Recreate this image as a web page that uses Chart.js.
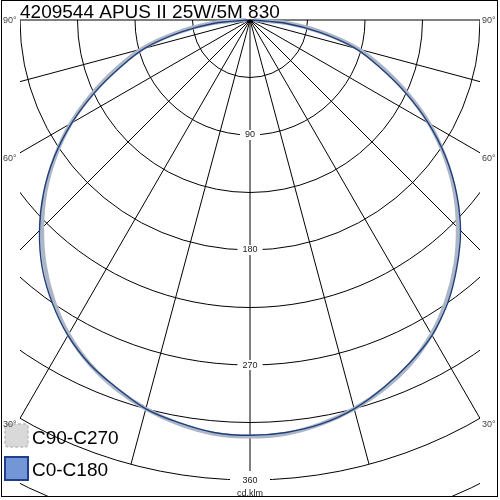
<!DOCTYPE html>
<html>
<head>
<meta charset="utf-8">
<title>4209544 APUS II 25W/5M 830</title>
<script src="https://cdn.jsdelivr.net/npm/chart.js"></script>
<style>
  body { margin: 0; background: #fff; }
  #wrap { width: 500px; height: 500px; }
</style>
</head>
<body>
<div id="wrap"><canvas id="polarChart" width="500" height="500"></canvas></div>
<script>
var titleText = "4209544 APUS II 25W/5M 830";
var unitText = "cd.klm";
var seriesNames = ["C90-C270", "C0-C180"];

// gamma angles, negative side = C180 / C270 half
var gammaAngles = [-90,-85,-80,-75,-70,-65,-60,-55,-50,-45,-40,-35,-30,-25,-20,-15,-10,-5,0,
                   5,10,15,20,25,30,35,40,45,50,55,60,65,70,75,80,85,90];
var c90c270 = [3,30,59,88,111,136,162,186,209,230,250,268,284,297,307,315,321,325,326,
               325,321,315,307,297,284,268,250,230,209,186,162,136,111,88,59,30,3];
var c0c180 = [2,27,55,85,108,134,161,187,211,233,253,270,285,297,306,315,320,324,325,
              324,321,315,306,296,285,270,252,233,211,187,161,134,108,85,55,27,2];

var ringValues = [45,90,135,180,225,270,315,360,405];
var ringLabels = [90,180,270,360];
var spokeAngles = [-90,-75,-60,-45,-30,-15,0,15,30,45,60,75,90];
var angleTicks = [90,60,30];

function toXY(values) {
  return values.map(function(v, i) {
    var a = gammaAngles[i] * Math.PI / 180;
    return {x: v * Math.sin(a), y: -v * Math.cos(a)};
  });
}

var fontFam = '"Liberation Sans", Arial, sans-serif';

var polarGrid = {
  id: 'polarGrid',
  beforeDatasetsDraw: function(chart) {
    var ctx = chart.ctx, area = chart.chartArea;
    var xs = chart.scales.x, ys = chart.scales.y;
    var cx = xs.getPixelForValue(0), cy = ys.getPixelForValue(0);
    ctx.save();
    ctx.beginPath();
    ctx.rect(area.left, area.top - 1, area.right - area.left, area.bottom - area.top + 1);
    ctx.clip();
    ctx.strokeStyle = '#000';
    ctx.lineWidth = 1;
    ringValues.forEach(function(v) {
      var r = xs.getPixelForValue(v) - cx;
      ctx.beginPath();
      ctx.arc(cx, cy, r, 0, Math.PI);
      ctx.stroke();
    });
    spokeAngles.forEach(function(g) {
      var a = g * Math.PI / 180, r = 360;
      ctx.beginPath();
      ctx.moveTo(cx, cy);
      ctx.lineTo(xs.getPixelForValue(r * Math.sin(a)), ys.getPixelForValue(-r * Math.cos(a)));
      ctx.stroke();
    });
    // ring value labels
    ctx.font = '9px ' + fontFam;
    ctx.textAlign = 'center';
    ctx.textBaseline = 'middle';
    ringLabels.forEach(function(v, i) {
      var y = ys.getPixelForValue(-v);
      var w = ctx.measureText(String(v)).width + 10;
      ctx.fillStyle = '#fff';
      if (i == ringLabels.length - 1) {
        ctx.fillRect(cx - 20, y - 9, 40, area.bottom - y + 9);
      } else {
        ctx.fillRect(cx - w / 2, y - 5, w, 10);
      }
      ctx.fillStyle = '#222';
      ctx.fillText(String(v), cx, y);
    });
    ctx.fillText(unitText, cx, ys.getPixelForValue(-ringLabels[ringLabels.length - 1]) + 13);
    ctx.restore();
  },
  afterDraw: function(chart) {
    var ctx = chart.ctx, area = chart.chartArea;
    var cy = chart.scales.y.getPixelForValue(0);
    var half = (area.right - area.left) / 2;
    ctx.save();
    // frame
    ctx.strokeStyle = '#000';
    ctx.lineWidth = 1;
    ctx.strokeRect(1.5, 0.5, 496, 496);
    // title
    ctx.fillStyle = '#000';
    ctx.font = '19px ' + fontFam;
    ctx.textAlign = 'left';
    ctx.textBaseline = 'alphabetic';
    ctx.fillText(titleText, 20, 17.5);
    // legend boxes
    ctx.beginPath();
    ctx.roundRect(5, 424, 23, 23, 3);
    ctx.fillStyle = '#d9d9d9';
    ctx.fill();
    ctx.setLineDash([3, 2]);
    ctx.strokeStyle = '#bdbdbd';
    ctx.lineWidth = 1.5;
    ctx.stroke();
    ctx.setLineDash([]);
    ctx.beginPath();
    ctx.rect(5, 457, 23, 23);
    ctx.fillStyle = '#7396d6';
    ctx.fill();
    ctx.strokeStyle = '#1f3f8c';
    ctx.lineWidth = 2;
    ctx.stroke();
    // angle labels
    ctx.font = '9px ' + fontFam;
    ctx.textBaseline = 'middle';
    ctx.fillStyle = '#444';
    angleTicks.forEach(function(g) {
      var y = cy + half / Math.tan(g * Math.PI / 180) + (g < 90 ? 6 : 1);
      ctx.fillText(g + '°', 3, y);
      ctx.fillText(g + '°', area.right + 2, y);
    });
    // legend text
    ctx.fillStyle = '#000';
    ctx.font = '19px ' + fontFam;
    ctx.textBaseline = 'alphabetic';
    ctx.fillText(seriesNames[0], 32, 443.5);
    ctx.fillText(seriesNames[1], 32, 476);
    ctx.restore();
  }
};

new Chart("polarChart", {
  type: "scatter",
  data: {
    datasets: [{
      label: seriesNames[0],
      data: toXY(c90c270),
      showLine: true,
      borderColor: '#adb6c7',
      borderWidth: 4,
      pointRadius: 0,
      fill: false,
      tension: 0.25,
      order: 2,
      clip: 4
    }, {
      label: seriesNames[1],
      data: toXY(c0c180),
      showLine: true,
      borderColor: '#1f3f7c',
      borderWidth: 1.4,
      pointRadius: 0,
      fill: false,
      tension: 0.25,
      order: 1,
      clip: 4
    }]
  },
  options: {
    responsive: false,
    animation: false,
    layout: {padding: {left: 20, right: 20, top: 20, bottom: 4}},
    plugins: {
      legend: {display: false},
      title: {display: false},
      tooltip: {enabled: false}
    },
    scales: {
      x: {type: 'linear', min: -180, max: 180, display: false},
      y: {type: 'linear', min: -372.5, max: 0, display: false}
    }
  },
  plugins: [polarGrid]
});
</script>
</body>
</html>
